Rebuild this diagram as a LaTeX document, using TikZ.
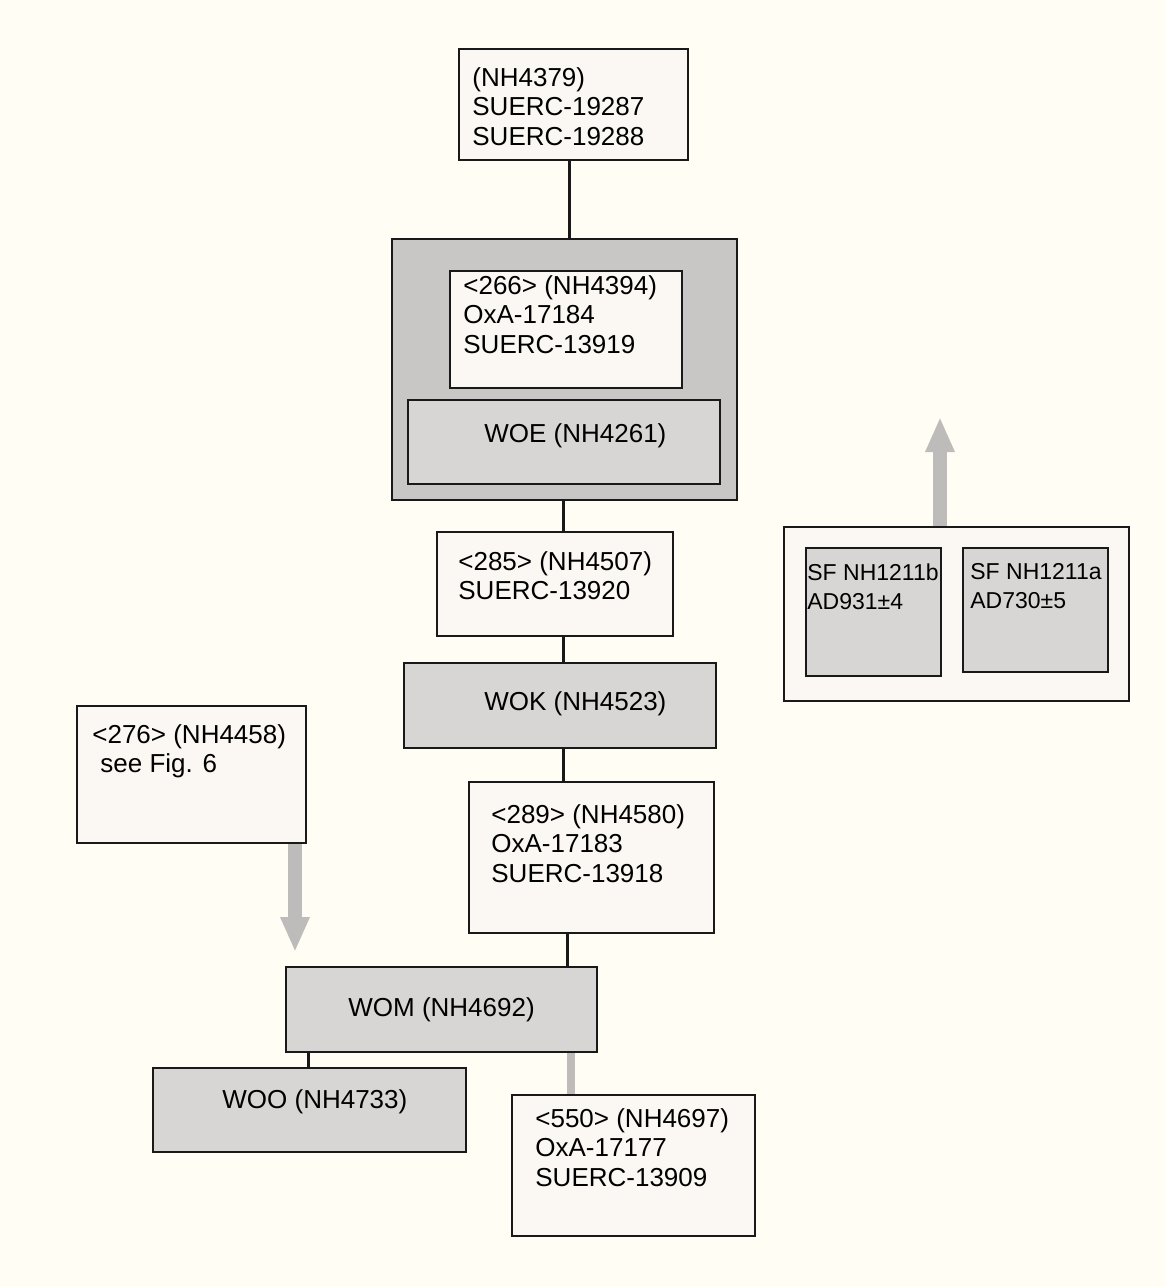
\documentclass[tikz,border=0pt]{standalone}
\usepackage{fontspec}
\setmainfont{Liberation Sans}
\usetikzlibrary{arrows.meta}

\definecolor{paper}{RGB}{255,253,244}
\definecolor{palebox}{RGB}{251,248,243}
\definecolor{greybox}{RGB}{216,214,212}
\definecolor{darkbox}{RGB}{201,199,197}
\definecolor{greyarrow}{RGB}{190,188,186}
\definecolor{edge}{RGB}{25,25,25}

\tikzset{
  boxwh/.style 2 args={minimum width=#1*0.5pt, minimum height=#2*0.5pt},
  cell/.style={draw=edge, line width=1pt, inner sep=0pt, outer sep=0pt, anchor=north west},
  datebox/.style={cell, fill=palebox},
  unitbox/.style={cell, fill=greybox},
  groupbox/.style={cell, fill=darkbox},
  txt/.style={font=\fontsize{13}{14.75}\selectfont, align=left, inner sep=0pt, anchor=north west},
  txtline/.style={font=\fontsize{13}{14.75}\selectfont, inner sep=0pt, anchor=base west},
  sftxt/.style={font=\fontsize{11.5}{14.5}\selectfont, align=left, inner sep=0pt, anchor=north west},
  link/.style={draw=edge, line width=1.5pt, shorten <=0.5pt, shorten >=0.5pt},
  softlink/.style={draw=greyarrow, line width=4pt, shorten <=0.5pt, shorten >=0.5pt},
  bigarrow/.style={draw=greyarrow, line width=7pt, shorten <=0.5pt,
    -{Triangle[width=13.5pt,length=17.5pt,fill=greyarrow]}},
}

\begin{document}
\begin{tikzpicture}[x=0.5pt, y=-0.5pt]
	\fill[paper] (0,0) rectangle (1166,1287);
	\useasboundingbox (0,0) rectangle (1166,1287);

	% top sample
	\node[datebox, boxwh={229}{111}] (nh4379) at (459,49) {};
	\node[txt] (t4379) at ([shift={(13,18)}]nh4379.north west) {(NH4379)\\SUERC-19287\\SUERC-19288};

	% grave group
	\node[groupbox, boxwh={345}{261}] (grp) at (392,239) {};
	\node[datebox, boxwh={232}{117}] (nh4394) at (450,271) {};
	\node[txt] (t4394) at ([shift={(13,4)}]nh4394.north west) {<266> (NH4394)\\OxA-17184\\SUERC-13919};
	\node[unitbox, boxwh={312}{84}] (woe) at (408,400) {};
	\node[txtline] (twoe) at ([shift={(76,42)}]woe.north west) {WOE (NH4261)};

	% main sequence
	\node[datebox, boxwh={236}{104}] (nh4507) at (437,532) {};
	\node[txt] (t4507) at ([shift={(21,19)}]nh4507.north west) {<285> (NH4507)\\SUERC-13920};
	\node[unitbox, boxwh={312}{85}] (wok) at (404,663) {};
	\node[txtline] (twok) at ([shift={(80,47)}]wok.north west) {WOK (NH4523)};
	\node[datebox, boxwh={245}{151}] (nh4580) at (469,782) {};
	\node[txt] (t4580) at ([shift={(22,22)}]nh4580.north west) {<289> (NH4580)\\OxA-17183\\SUERC-13918};
	\node[unitbox, boxwh={311}{85}] (wom) at (286,967) {};
	\node[txtline] (twom) at ([shift={(62,49)}]wom.north west) {WOM (NH4692)};
	\node[unitbox, boxwh={313}{84}] (woo) at (153,1068) {};
	\node[txtline] (twoo) at ([shift={(69,40)}]woo.north west) {WOO (NH4733)};
	\node[datebox, boxwh={243}{141}] (nh4697) at (512,1095) {};
	\node[txt] (t4697) at ([shift={(23,13)}]nh4697.north west) {<550> (NH4697)\\OxA-17177\\SUERC-13909};

	% side sample
	\node[datebox, boxwh={229}{137}] (nh4458) at (77,706) {};
	\node[txt] (t4458) at ([shift={(15,18)}]nh4458.north west) {<276> (NH4458)\\\hspace*{4pt}see Fig. 6};

	% small finds
	\node[datebox, boxwh={345}{174}] (sfgroup) at (784,527) {};
	\node[unitbox, boxwh={135}{128}] (sfb) at (806,548) {};
	\node[sftxt] (tsfb) at ([shift={(1,15)}]sfb.north west) {SF NH1211b\\AD931±4};
	\node[unitbox, boxwh={145}{124}] (sfa) at (963,548) {};
	\node[sftxt] (tsfa) at ([shift={(7,15)}]sfa.north west) {SF NH1211a\\AD730±5};

	% connector positions
	\coordinate (topx) at (569,0);
	\coordinate (spine) at (563,0);
	\coordinate (womx) at (567,0);
	\coordinate (woox) at (308,0);
	\coordinate (softx) at (571,0);
	\coordinate (arrowx) at (295,0);
	\coordinate (sfx) at (940,0);
	\coordinate (tiprow) at (0,952);
	\coordinate (sfrow) at (0,417);

	\draw[link] (nh4379.south -| topx) -- (grp.north -| topx);
	\draw[link] (grp.south -| spine) -- (nh4507.north -| spine);
	\draw[link] (nh4507.south -| spine) -- (wok.north -| spine);
	\draw[link] (wok.south -| spine) -- (nh4580.north -| spine);
	\draw[link] (nh4580.south -| womx) -- (wom.north -| womx);
	\draw[link] (wom.south -| woox) -- (woo.north -| woox);
	\draw[softlink] (wom.south -| softx) -- (nh4697.north -| softx);
	\draw[bigarrow] (nh4458.south -| arrowx) -- (tiprow -| arrowx);
	\draw[bigarrow] (sfgroup.north -| sfx) -- (sfrow -| sfx);
\end{tikzpicture}
\end{document}
